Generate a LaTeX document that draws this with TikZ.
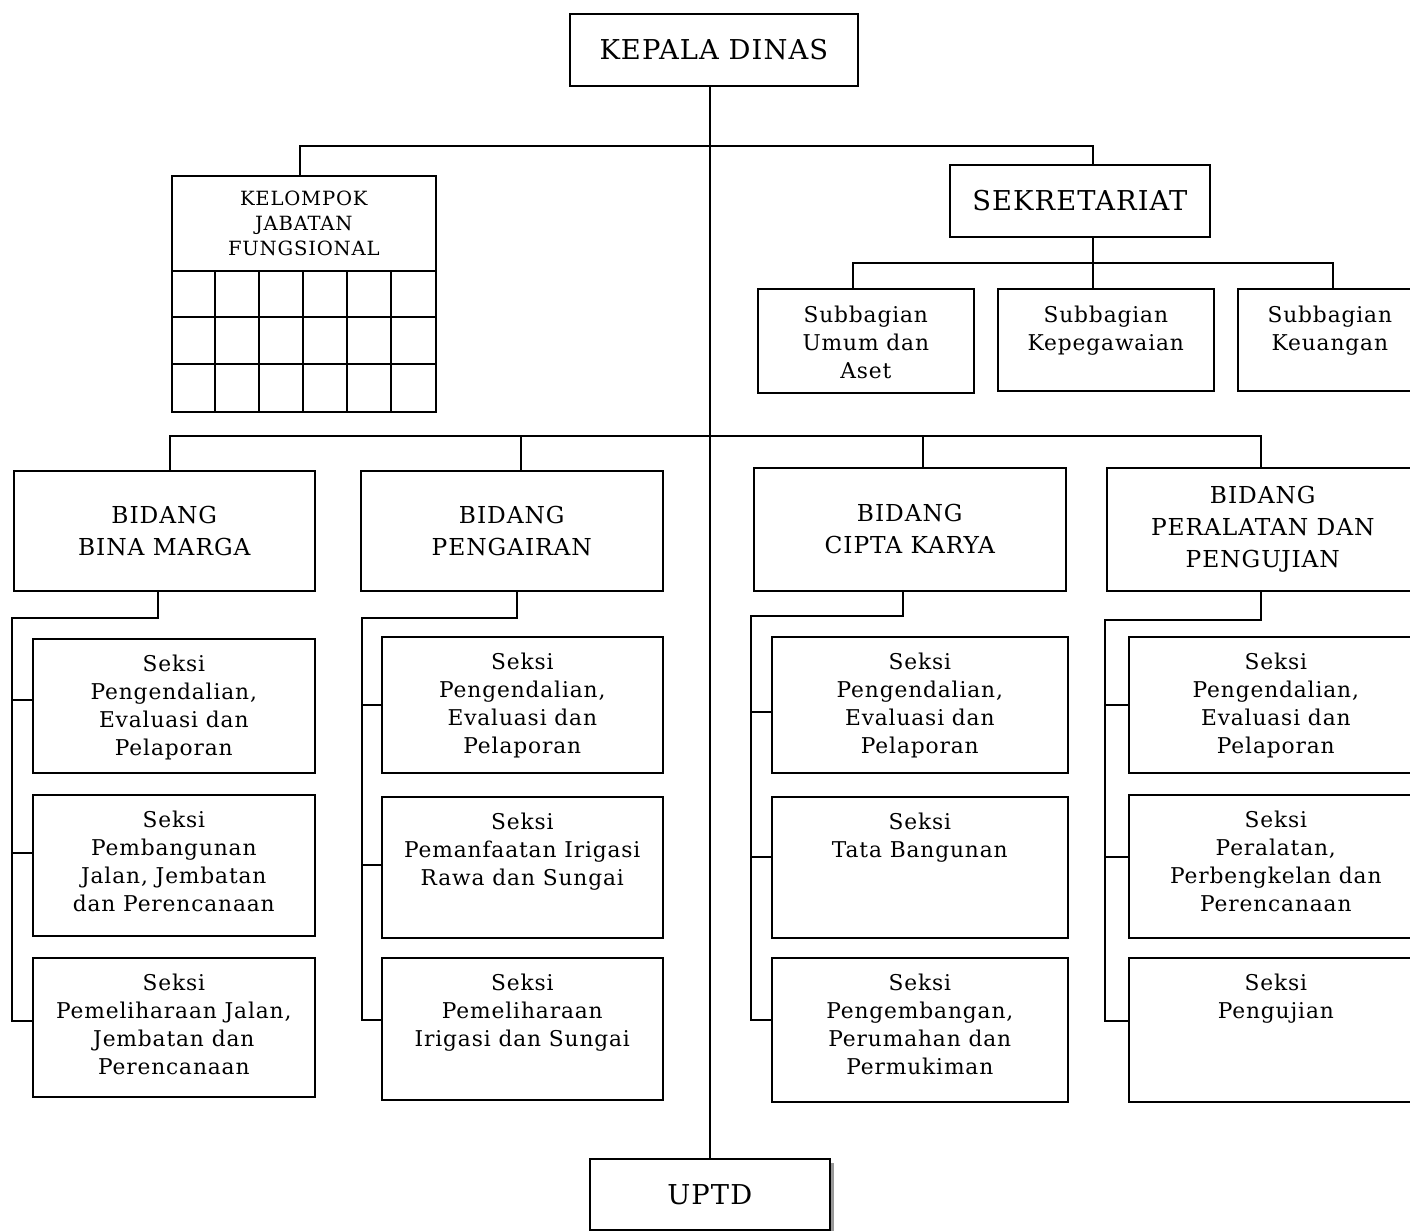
\documentclass[tikz,border=0pt]{standalone}
\usepackage{fontspec}
\setmainfont{DejaVu Serif}[LetterSpace=4]
\tikzset{
  ln/.style={line width=1.2pt},
  bx/.style={draw, line width=1.2pt, fill=white, inner sep=0pt, anchor=north west},
  bigf/.style={font=\fontsize{20.5}{25}\selectfont},
  bidf/.style={font=\fontsize{17.5}{24}\selectfont, align=center},
  sekf/.style={font=\fontsize{16.3}{21}\selectfont, align=center, inner sep=0pt, anchor=north},
  kjff/.style={font=\fontsize{14.7}{19}\selectfont, align=center}
}
% \mybox{name}{x1}{y1}{x2}{y2}{style}{text}
\newcommand{\mybox}[7]{\node[bx,#6,minimum width={0.75pt*(#4-#2)},minimum height={0.75pt*(#5-#3)}] (#1) at (#2,#3) {#7};}
% \seksibox{name}{x1}{y1}{x2}{y2}{text}
\newcommand{\seksibox}[6]{\node[bx,minimum width={0.75pt*(#4-#2)},minimum height={0.75pt*(#5-#3)}] (#1) at (#2,#3) {};
  \node[sekf] (#1-t) at ([yshift=-12.5pt]#1.north) {#6};}
\begin{document}
\begin{tikzpicture}[x=0.75pt,y=-0.75pt]
\useasboundingbox (0,0) rectangle (1410,1231);
\clip (0,0) rectangle (1410,1231);

% ---- top level
\mybox{kd}{569}{13}{857}{85}{bigf}{KEPALA DINAS}
% UPTD with shadow
\fill[gray!80] (593,1163) rectangle (834,1240);
\mybox{uptd}{589}{1158}{829}{1229}{bigf}{UPTD}
\draw[ln] (uptd.north |- kd.south) -- (uptd.north);
\draw[line width=1.9pt] (uptd.north |- 0,283) -- (uptd.north |- 0,325);

% ---- KJF
\mybox{kjfh}{171}{175}{435}{270}{kjff}{KELOMPOK\\JABATAN\\FUNGSIONAL}
\mybox{kjfg}{171}{270}{435}{411}{}{}
\foreach \xx in {215,259,303,347,391} \draw[ln] (\xx,270) -- (\xx,411);
\foreach \yy in {317,364} \draw[ln] (171,\yy) -- (435,\yy);

% ---- Sekretariat
\mybox{sek}{949}{164}{1209}{236}{bigf}{SEKRETARIAT}
\coordinate (bus1l) at (300,146);
\coordinate (bus1r) at (1093,146);
\draw[ln] (bus1l |- kjfh.north) -- (bus1l) -- (bus1r) -- (bus1r |- sek.north);

\mybox{su}{757}{288}{973}{392}{}{}
\node[sekf] (su-t) at ([yshift=-13pt]su.north) {Subbagian\\Umum dan\\Aset};
\mybox{sk}{997}{288}{1213}{390}{}{}
\node[sekf] (sk-t) at ([yshift=-13pt]sk.north) {Subbagian\\Kepegawaian};
\mybox{sku}{1237}{288}{1421}{390}{}{}
\node[sekf] (sku-t) at ([yshift=-13pt]sku.north) {Subbagian\\Keuangan};
\coordinate (bus2l) at (853,263);
\coordinate (bus2m) at (1093,263);
\coordinate (bus2r) at (1333,263);
\draw[ln] (bus2m |- sek.south) -- (bus2m);
\draw[ln] (bus2l |- su.north) -- (bus2l) -- (bus2r) -- (bus2r |- sku.north);
\draw[ln] (bus2m) -- (bus2m |- sk.north);

% ---- Bidang
\mybox{b1}{13}{470}{314}{590}{bidf}{BIDANG\\BINA MARGA}
\mybox{b2}{360}{470}{662}{590}{bidf}{BIDANG\\PENGAIRAN}
\mybox{b3}{753}{467}{1065}{590}{bidf}{BIDANG\\CIPTA KARYA}
\mybox{b4}{1106}{467}{1418}{590}{bidf}{BIDANG\\PERALATAN DAN\\PENGUJIAN}
\coordinate (bus3a) at (170,436);
\coordinate (bus3b) at (521,436);
\coordinate (bus3c) at (923,436);
\coordinate (bus3d) at (1261,436);
\draw[ln] (bus3a |- b1.north) -- (bus3a) -- (bus3d) -- (bus3d |- b4.north);
\draw[ln] (bus3b) -- (bus3b |- b2.north);
\draw[ln] (bus3c) -- (bus3c |- b3.north);

% ---- Seksi column 1
\seksibox{s11}{32}{638}{314}{772}{Seksi\\Pengendalian,\\Evaluasi dan\\Pelaporan}
\seksibox{s12}{32}{794}{314}{935}{Seksi\\Pembangunan\\Jalan, Jembatan\\dan Perencanaan}
\seksibox{s13}{32}{957}{314}{1096}{Seksi\\Pemeliharaan Jalan,\\Jembatan dan\\Perencanaan}
\coordinate (c1a) at (158,618);
\coordinate (c1b) at (12,618);
\draw[ln] (c1a |- b1.south) -- (c1a) -- (c1b) -- (12,1021) -- (s13.west |- 0,1021);
\draw[ln] (12,700) -- (s11.west |- 0,700);
\draw[ln] (12,853) -- (s12.west |- 0,853);

% ---- Seksi column 2
\seksibox{s21}{381}{636}{662}{772}{Seksi\\Pengendalian,\\Evaluasi dan\\Pelaporan}
\seksibox{s22}{381}{796}{662}{937}{Seksi\\Pemanfaatan Irigasi\\Rawa dan Sungai}
\seksibox{s23}{381}{957}{662}{1099}{Seksi\\Pemeliharaan\\Irigasi dan Sungai}
\coordinate (c2a) at (517,618);
\coordinate (c2b) at (362,618);
\draw[ln] (c2a |- b2.south) -- (c2a) -- (c2b) -- (362,1020) -- (s23.west |- 0,1020);
\draw[ln] (362,705) -- (s21.west |- 0,705);
\draw[ln] (362,865) -- (s22.west |- 0,865);

% ---- Seksi column 3
\seksibox{s31}{771}{636}{1067}{772}{Seksi\\Pengendalian,\\Evaluasi dan\\Pelaporan}
\seksibox{s32}{771}{796}{1067}{937}{Seksi\\Tata Bangunan}
\seksibox{s33}{771}{957}{1067}{1101}{Seksi\\Pengembangan,\\Perumahan dan\\Permukiman}
\coordinate (c3a) at (903,616);
\coordinate (c3b) at (751,616);
\draw[ln] (c3a |- b3.south) -- (c3a) -- (c3b) -- (751,1020) -- (s33.west |- 0,1020);
\draw[ln] (751,712) -- (s31.west |- 0,712);
\draw[ln] (751,857) -- (s32.west |- 0,857);

% ---- Seksi column 4
\seksibox{s41}{1128}{636}{1422}{772}{Seksi\\Pengendalian,\\Evaluasi dan\\Pelaporan}
\seksibox{s42}{1128}{794}{1422}{937}{Seksi\\Peralatan,\\Perbengkelan dan\\Perencanaan}
\seksibox{s43}{1128}{957}{1422}{1101}{Seksi\\Pengujian}
\coordinate (c4a) at (1261,620);
\coordinate (c4b) at (1105,620);
\draw[ln] (c4a |- b4.south) -- (c4a) -- (c4b) -- (1105,1021) -- (s43.west |- 0,1021);
\draw[ln] (1105,705) -- (s41.west |- 0,705);
\draw[ln] (1105,857) -- (s42.west |- 0,857);
\end{tikzpicture}
\end{document}
